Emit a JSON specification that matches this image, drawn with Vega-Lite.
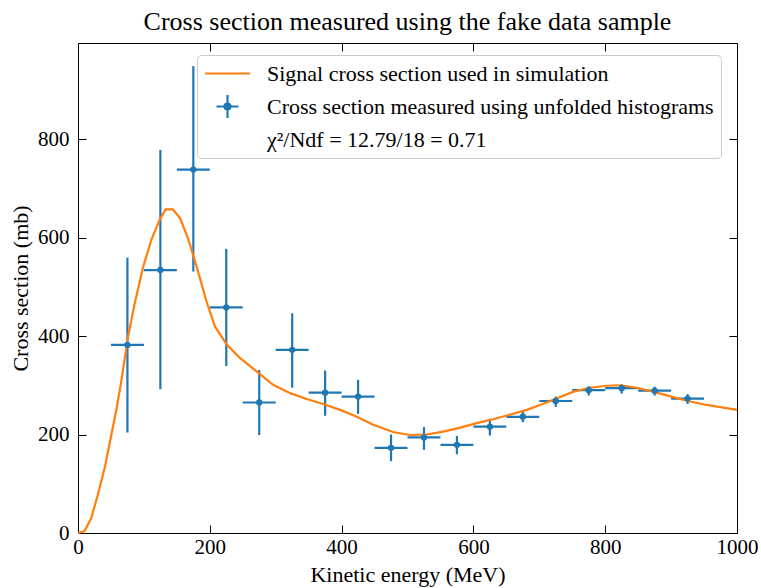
{
  "$schema": "https://vega.github.io/schema/vega-lite/v6.json",
  "width": 659,
  "height": 490,
  "autosize": {"type": "none"},
  "padding": {"left": 78, "top": 43, "right": 24, "bottom": 55},
  "background": "white",
  "title": {
    "text": "Cross section measured using the fake data sample",
    "font": "Liberation Serif",
    "fontSize": 26,
    "fontWeight": "normal",
    "color": "black",
    "anchor": "middle",
    "baseline": "alphabetic",
    "offset": 13,
    "dy": 26
  },
  "config": {
    "view": {"stroke": "black", "strokeWidth": 1},
    "axis": {
      "grid": false,
      "domain": false,
      "tickColor": "black",
      "tickSize": -8,
      "tickWidth": 1,
      "labelFont": "Liberation Serif",
      "labelFontSize": 21,
      "labelColor": "black",
      "labelFlush": false,
      "labelOverlap": false,
      "titleFont": "Liberation Serif",
      "titleFontSize": 22,
      "titleFontWeight": "normal",
      "titleColor": "black"
    }
  },
  "datasets": {
    "curve": [
      {"E": 0, "xs": 0, "series": "Signal cross section used in simulation"},
      {"E": 10, "xs": 4, "series": "Signal cross section used in simulation"},
      {"E": 20, "xs": 30, "series": "Signal cross section used in simulation"},
      {"E": 30, "xs": 77, "series": "Signal cross section used in simulation"},
      {"E": 41, "xs": 135, "series": "Signal cross section used in simulation"},
      {"E": 51, "xs": 202, "series": "Signal cross section used in simulation"},
      {"E": 59, "xs": 256, "series": "Signal cross section used in simulation"},
      {"E": 66, "xs": 311, "series": "Signal cross section used in simulation"},
      {"E": 76, "xs": 399, "series": "Signal cross section used in simulation"},
      {"E": 86, "xs": 466, "series": "Signal cross section used in simulation"},
      {"E": 99, "xs": 541, "series": "Signal cross section used in simulation"},
      {"E": 112, "xs": 598, "series": "Signal cross section used in simulation"},
      {"E": 124, "xs": 636, "series": "Signal cross section used in simulation"},
      {"E": 133, "xs": 657, "series": "Signal cross section used in simulation"},
      {"E": 144, "xs": 657, "series": "Signal cross section used in simulation"},
      {"E": 155, "xs": 639, "series": "Signal cross section used in simulation"},
      {"E": 167, "xs": 598, "series": "Signal cross section used in simulation"},
      {"E": 180, "xs": 541, "series": "Signal cross section used in simulation"},
      {"E": 195, "xs": 470, "series": "Signal cross section used in simulation"},
      {"E": 208, "xs": 419, "series": "Signal cross section used in simulation"},
      {"E": 226, "xs": 382, "series": "Signal cross section used in simulation"},
      {"E": 246, "xs": 355, "series": "Signal cross section used in simulation"},
      {"E": 271, "xs": 328, "series": "Signal cross section used in simulation"},
      {"E": 296, "xs": 301, "series": "Signal cross section used in simulation"},
      {"E": 322, "xs": 284, "series": "Signal cross section used in simulation"},
      {"E": 347, "xs": 272, "series": "Signal cross section used in simulation"},
      {"E": 372, "xs": 262, "series": "Signal cross section used in simulation"},
      {"E": 398, "xs": 250, "series": "Signal cross section used in simulation"},
      {"E": 423, "xs": 236, "series": "Signal cross section used in simulation"},
      {"E": 448, "xs": 220, "series": "Signal cross section used in simulation"},
      {"E": 478, "xs": 205, "series": "Signal cross section used in simulation"},
      {"E": 504, "xs": 199, "series": "Signal cross section used in simulation"},
      {"E": 529, "xs": 200, "series": "Signal cross section used in simulation"},
      {"E": 554, "xs": 206, "series": "Signal cross section used in simulation"},
      {"E": 580, "xs": 214, "series": "Signal cross section used in simulation"},
      {"E": 605, "xs": 223, "series": "Signal cross section used in simulation"},
      {"E": 630, "xs": 231, "series": "Signal cross section used in simulation"},
      {"E": 655, "xs": 240, "series": "Signal cross section used in simulation"},
      {"E": 681, "xs": 250, "series": "Signal cross section used in simulation"},
      {"E": 703, "xs": 261, "series": "Signal cross section used in simulation"},
      {"E": 726, "xs": 273, "series": "Signal cross section used in simulation"},
      {"E": 752, "xs": 287, "series": "Signal cross section used in simulation"},
      {"E": 777, "xs": 295, "series": "Signal cross section used in simulation"},
      {"E": 802, "xs": 299, "series": "Signal cross section used in simulation"},
      {"E": 822, "xs": 300, "series": "Signal cross section used in simulation"},
      {"E": 848, "xs": 295, "series": "Signal cross section used in simulation"},
      {"E": 873, "xs": 287, "series": "Signal cross section used in simulation"},
      {"E": 903, "xs": 276, "series": "Signal cross section used in simulation"},
      {"E": 929, "xs": 267, "series": "Signal cross section used in simulation"},
      {"E": 954, "xs": 260, "series": "Signal cross section used in simulation"},
      {"E": 1000, "xs": 250, "series": "Signal cross section used in simulation"}
    ],
    "points": [
      {"E": 75, "Elo": 50, "Ehi": 100, "xs": 382, "lo": 204, "hi": 559, "series": "Cross section measured using unfolded histograms"},
      {"E": 125, "Elo": 100, "Ehi": 150, "xs": 534, "lo": 292, "hi": 778, "series": "Cross section measured using unfolded histograms"},
      {"E": 175, "Elo": 150, "Ehi": 200, "xs": 738, "lo": 531, "hi": 948, "series": "Cross section measured using unfolded histograms"},
      {"E": 225, "Elo": 200, "Ehi": 250, "xs": 458, "lo": 339, "hi": 577, "series": "Cross section measured using unfolded histograms"},
      {"E": 275, "Elo": 250, "Ehi": 300, "xs": 265, "lo": 199, "hi": 331, "series": "Cross section measured using unfolded histograms"},
      {"E": 325, "Elo": 300, "Ehi": 350, "xs": 372, "lo": 295, "hi": 446, "series": "Cross section measured using unfolded histograms"},
      {"E": 375, "Elo": 350, "Ehi": 400, "xs": 285, "lo": 238, "hi": 330, "series": "Cross section measured using unfolded histograms"},
      {"E": 425, "Elo": 400, "Ehi": 450, "xs": 277, "lo": 242, "hi": 311, "series": "Cross section measured using unfolded histograms"},
      {"E": 475, "Elo": 450, "Ehi": 500, "xs": 173, "lo": 146, "hi": 200, "series": "Cross section measured using unfolded histograms"},
      {"E": 525, "Elo": 500, "Ehi": 550, "xs": 194, "lo": 169, "hi": 215, "series": "Cross section measured using unfolded histograms"},
      {"E": 575, "Elo": 550, "Ehi": 600, "xs": 179, "lo": 160, "hi": 197, "series": "Cross section measured using unfolded histograms"},
      {"E": 625, "Elo": 600, "Ehi": 650, "xs": 216, "lo": 198, "hi": 232, "series": "Cross section measured using unfolded histograms"},
      {"E": 675, "Elo": 650, "Ehi": 700, "xs": 236, "lo": 225, "hi": 246, "series": "Cross section measured using unfolded histograms"},
      {"E": 725, "Elo": 700, "Ehi": 750, "xs": 268, "lo": 256, "hi": 277, "series": "Cross section measured using unfolded histograms"},
      {"E": 775, "Elo": 750, "Ehi": 800, "xs": 290, "lo": 279, "hi": 298, "series": "Cross section measured using unfolded histograms"},
      {"E": 825, "Elo": 800, "Ehi": 850, "xs": 294, "lo": 283, "hi": 302, "series": "Cross section measured using unfolded histograms"},
      {"E": 875, "Elo": 850, "Ehi": 900, "xs": 289, "lo": 279, "hi": 297, "series": "Cross section measured using unfolded histograms"},
      {"E": 925, "Elo": 900, "Ehi": 950, "xs": 273, "lo": 262, "hi": 282, "series": "Cross section measured using unfolded histograms"}
    ]
  },
  "layer": [
    {
      "data": {"name": "points"},
      "mark": {"type": "rule", "color": "#1f77b4", "strokeWidth": 2.2},
      "encoding": {
        "x": {"field": "E", "type": "quantitative", "scale": {"domain": [0, 1000], "nice": false, "zero": false},
              "axis": {"orient": "bottom", "values": [0, 200, 400, 600, 800, 1000], "format": "d", "title": "Kinetic energy (MeV)", "labelPadding": 11, "titlePadding": 7}},
        "y": {"field": "lo", "type": "quantitative", "scale": {"domain": [0, 995], "nice": false},
              "axis": {"orient": "left", "values": [0, 200, 400, 600, 800], "format": "d", "title": "Cross section (mb)", "labelPadding": 17, "titlePadding": 5}},
        "y2": {"field": "hi"}
      }
    },
    {
      "data": {"name": "points"},
      "mark": {"type": "rule", "color": "#1f77b4", "strokeWidth": 2.2},
      "encoding": {
        "x": {"field": "Elo", "type": "quantitative",
              "axis": {"orient": "top", "values": [0, 200, 400, 600, 800, 1000], "labels": false, "title": null}},
        "x2": {"field": "Ehi"},
        "y": {"field": "xs", "type": "quantitative",
              "axis": {"orient": "right", "values": [0, 200, 400, 600, 800], "labels": false, "title": null}}
      }
    },
    {
      "data": {"name": "curve"},
      "mark": {"type": "line", "strokeWidth": 2.2, "interpolate": "linear"},
      "encoding": {
        "x": {"field": "E", "type": "quantitative", "axis": null},
        "y": {"field": "xs", "type": "quantitative", "axis": null},
        "color": {
          "field": "series", "type": "nominal",
          "scale": {
            "domain": ["Signal cross section used in simulation", "Cross section measured using unfolded histograms", "χ²/Ndf = 12.79/18 = 0.71"],
            "range": ["#ff7f0e", "#1f77b4", "rgba(0,0,0,0)"]
          },
          "legend": {
            "title": null,
            "orient": "none",
            "legendX": 119,
            "legendY": 12,
            "direction": "vertical",
            "labelFont": "Liberation Serif",
            "labelFontSize": 22,
            "labelColor": "black",
            "labelLimit": 800,
            "labelOffset": 28,
            "symbolSize": 400,
            "symbolOffset": 12,
            "rowPadding": 5,
            "padding": 7,
            "fillColor": "rgba(255,255,255,0.8)",
            "strokeColor": "#cccccc",
            "cornerRadius": 4,
            "encode": {
              "symbols": {
                "update": {
                  "shape": {"signal": "datum.value === 'Signal cross section used in simulation' ? 'M-2.25,0L2.25,0' : datum.value === 'Cross section measured using unfolded histograms' ? 'M-1.1,0L1.1,0M0,-1.15L0,1.15M0.3,0A0.3,0.3,0,1,1,-0.3,0A0.3,0.3,0,1,1,0.3,0Z' : 'M-0.1,0L0.1,0'"},
                  "stroke": {"signal": "datum.value === 'Signal cross section used in simulation' ? '#ff7f0e' : datum.value === 'Cross section measured using unfolded histograms' ? '#1f77b4' : 'transparent'"},
                  "fill": {"signal": "datum.value === 'Cross section measured using unfolded histograms' ? '#1f77b4' : 'transparent'"},
                  "strokeWidth": {"value": 2.2},
                  "opacity": {"value": 1}
                }
              }
            }
          }
        }
      }
    },
    {
      "data": {"name": "points"},
      "mark": {"type": "point", "filled": true, "size": 40, "opacity": 1, "shape": "circle"},
      "encoding": {
        "x": {"field": "E", "type": "quantitative", "axis": null},
        "y": {"field": "xs", "type": "quantitative", "axis": null},
        "color": {"field": "series", "type": "nominal"}
      }
    }
  ]
}
